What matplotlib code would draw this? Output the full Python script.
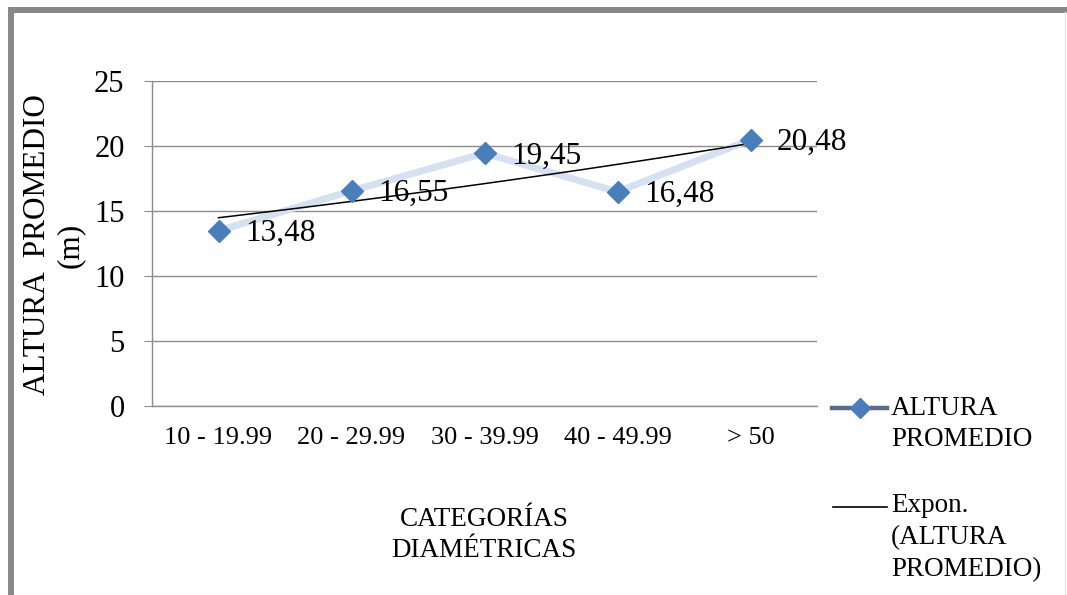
import numpy as np
import matplotlib
matplotlib.use("Agg")
import matplotlib.pyplot as plt
from matplotlib.lines import Line2D

categories = ["10 - 19.99", "20 - 29.99", "30 - 39.99", "40 - 49.99", "> 50"]
altura = [13.48, 16.55, 19.45, 16.48, 20.48]
labels = ["13,48", "16,55", "19,45", "16,48", "20,48"]
yticks = [0, 5, 10, 15, 20, 25]

W, H = 1067, 595
plt.rcParams['font.family'] = ['Liberation Serif', 'DejaVu Serif']

fig = plt.figure(figsize=(W / 100, H / 100), dpi=100)
fig.patch.set_facecolor('white')

def fx(x):
    return x / W

def fy(y):
    return 1 - y / H

ax = fig.add_axes([fx(152), fy(406), fx(817) - fx(152), fy(81) - fy(406)])
x = np.arange(len(categories))

grid_c = '#8c8c8c'
ax.set_xlim(-0.5, len(categories) - 0.5)
ax.set_ylim(0, 25)
ax.set_yticks(yticks)
ax.set_yticklabels([str(t) for t in yticks])
ax.yaxis.grid(True, color=grid_c, linewidth=1.0)
ax.set_axisbelow(True)
for s in ['top', 'right']:
    ax.spines[s].set_visible(False)
ax.spines['left'].set_color(grid_c)
ax.spines['bottom'].set_color(grid_c)
ax.spines['left'].set_linewidth(1.0)
ax.spines['bottom'].set_linewidth(1.0)
ax.tick_params(axis='y', length=5.8, width=0.8, color=grid_c, pad=14, labelsize=22)
ax.tick_params(axis='x', length=0, pad=15, labelsize=19)
ax.set_xticks(x)
ax.set_xticklabels(categories)

# data line
ax.plot(x, altura, color='#d5e0f1', linewidth=5, zorder=3, solid_capstyle='round')

# exponential trendline fitted to the data
b, lna = np.polyfit(x, np.log(altura), 1)
xt = np.linspace(x[0], x[-1], 50)
ax.plot(xt, np.exp(lna + b * xt), color='black', linewidth=1.1, zorder=4)

ax.plot(x, altura, linestyle='none', marker='D', markersize=11,
        color='#4a7ebb', markeredgecolor='#4a7ebb', zorder=5)

for xi, yi, lab in zip(x, altura, labels):
    ax.annotate(lab, (xi, yi), xytext=(19, -2), textcoords='offset points',
                ha='left', va='center', fontsize=22.5, zorder=6)

# y label
fig.text(fx(54), fy(245), "ALTURA  PROMEDIO\n(m)", rotation=90, ha='center',
         va='center', fontsize=22.5, linespacing=1.15, multialignment='center')

# x label
fig.text(fx(484), fy(535), "CATEGORÍAS\nDIAMÉTRICAS", ha='center', va='center',
         fontsize=19.5, linespacing=1.3, multialignment='center')

# legend (manual)
fig.add_artist(Line2D([fx(832), fx(887)], [fy(408), fy(408)], color='#5b6b86',
                      linewidth=3.2, transform=fig.transFigure))
fig.add_artist(Line2D([fx(860)], [fy(408)], marker='D', markersize=10,
                      color='#4a7ebb', linestyle='none', transform=fig.transFigure))
fig.text(fx(891), fy(396), "ALTURA\nPROMEDIO", ha='left', va='top', fontsize=19.5,
         linespacing=1.3)
fig.add_artist(Line2D([fx(833), fx(887)], [fy(507), fy(507)], color='black',
                      linewidth=1.2, transform=fig.transFigure))
fig.text(fx(891), fy(493), "Expon.\n(ALTURA\nPROMEDIO)", ha='left', va='top',
         fontsize=19.5, linespacing=1.38)

# outer frame (top and left visible)
fig.add_artist(Line2D([fx(8), fx(1067)], [fy(10), fy(10)], color='#888888',
                      linewidth=4.3, transform=fig.transFigure, solid_capstyle='butt'))
fig.add_artist(Line2D([fx(11), fx(11)], [fy(7), fy(595)], color='#888888',
                      linewidth=4.3, transform=fig.transFigure, solid_capstyle='butt'))
fig.add_artist(Line2D([fx(1065), fx(1065)], [fy(12), fy(595)], color='#e6e6e6',
                      linewidth=1.0, transform=fig.transFigure))

fig.savefig("out.png", dpi=100)
